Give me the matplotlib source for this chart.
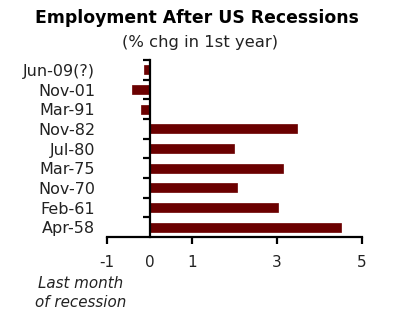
import matplotlib.pyplot as plt
import numpy as np

# bottom to top
CATEGORIES = ["Apr-58", "Feb-61", "Nov-70", "Mar-75", "Jul-80",
              "Nov-82", "Mar-91", "Nov-01", "Jun-09(?)"]
VALUES = [4.5, 3.03, 2.05, 3.14, 1.98, 3.46, -0.2, -0.41, -0.12]
X_TICKS = [-1, 0, 1, 3, 5]

BAR_COLOR = "#6B0000"
TEXT_COLOR = "#222222"

fig = plt.figure(figsize=(4.0, 3.34), dpi=100)
ax = fig.add_axes([107 / 400, 1 - 237 / 334, (362 - 107) / 400, (237 - 60) / 334])

y = np.arange(len(CATEGORIES))
ax.barh(y, VALUES, height=0.47, color=BAR_COLOR, edgecolor=BAR_COLOR, linewidth=0.5)

ax.set_xlim(-1, 5)
ax.set_ylim(-0.5, len(CATEGORIES) - 0.5)

for side in ["top", "right"]:
    ax.spines[side].set_visible(False)
ax.spines["left"].set_position(("data", 0))
ax.spines["left"].set_linewidth(1.6)
ax.spines["bottom"].set_linewidth(1.6)

# category labels sit well to the left of the zero line
ax.set_yticks(y)
ax.set_yticklabels(CATEGORIES, fontsize=11.5, color=TEXT_COLOR)
ax.tick_params(axis="y", which="major", length=0, pad=39)
ax.set_yticks(np.arange(len(CATEGORIES)) + 0.5, minor=True)
ax.tick_params(axis="y", which="minor", length=5, width=1.6, direction="out")

ax.set_xticks(X_TICKS)
ax.set_xticklabels([str(t) for t in X_TICKS], fontsize=11, color=TEXT_COLOR)
ax.tick_params(axis="x", length=5, width=1.6, pad=8)
for tick, val in zip(ax.xaxis.get_major_ticks(), X_TICKS):
    if val == 0:
        tick.tick1line.set_visible(False)

fig.text(0.4925, 1 - 18 / 334, "Employment After US Recessions", ha="center", va="center",
         fontsize=12.4, fontweight="bold", color="black")
fig.text(0.5, 1 - 42 / 334, "(% chg in 1st year)", ha="center", va="center",
         fontsize=11.8, color=TEXT_COLOR)
fig.text(81 / 400, 1 - 293 / 334, "Last month\nof recession", ha="center", va="center",
         fontsize=10.9, style="italic", color=TEXT_COLOR, linespacing=1.3)

fig.savefig("out.png", dpi=100)
